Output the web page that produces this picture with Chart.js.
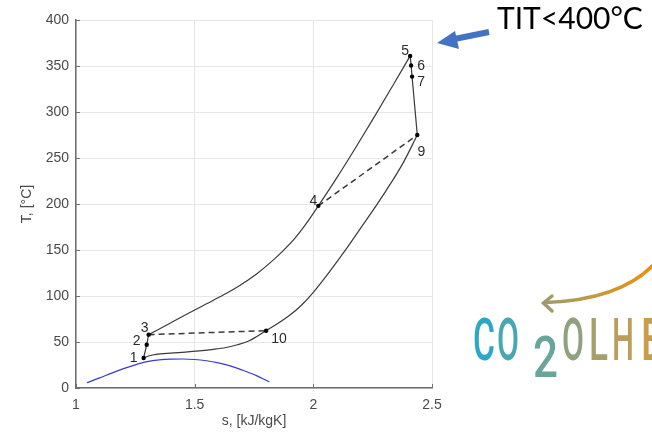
<!DOCTYPE html>
<html lang="en">
<head>
<meta charset="UTF-8">
<title>T-s diagram</title>
<script src="https://cdn.jsdelivr.net/npm/chart.js"></script>
<style>
  html, body { margin: 0; padding: 0; background: #fff; }
</style>
</head>
<body>
<canvas id="ts-chart" width="652" height="432"></canvas>
<script>
// saturation dome
const domeS = [1.046, 1.10, 1.15, 1.20, 1.25, 1.30, 1.35, 1.40, 1.45, 1.50, 1.55, 1.60, 1.65, 1.70, 1.76, 1.815];
const domeT = [5.8, 11, 16.2, 21, 25.2, 28.6, 30.6, 31.4, 31.5, 31, 29.6, 27.3, 24, 19.5, 13.5, 6.5];

// high pressure branch 3 -> 4 -> 5
const highS = [1.306, 1.40, 1.48, 1.55, 1.62, 1.69, 1.761, 1.82, 1.87, 1.92, 1.97, 2.021, 2.10, 2.18, 2.26, 2.34, 2.408];
const highT = [58, 71, 82, 91.5, 101, 111.5, 124, 136.5, 148.5, 162, 178.6, 198, 229, 262, 296, 331, 361];

// low pressure branch 1 -> 10 -> 9
const lowS = [1.285, 1.31, 1.337, 1.40, 1.46, 1.52, 1.58, 1.632, 1.68, 1.73, 1.801, 1.85, 1.90, 1.95, 2.0, 2.07, 2.141, 2.20, 2.267, 2.33, 2.379, 2.438];
const lowT = [32.6, 35, 36.6, 38, 39, 40.3, 42, 44, 47, 51.4, 62.3, 70, 79, 90, 104, 127, 152, 174, 199, 224, 245, 275];

// state points
const stateNames = ['1', '2', '3', '4', '5', '6', '7', '9', '10'];
const stateS = [1.285, 1.298, 1.306, 2.021, 2.408, 2.412, 2.416, 2.438, 1.801];
const stateT = [32.6, 47, 58, 198, 361, 350.5, 338.5, 275, 62.3];

// segments between state points
const pumpPath = ['1', '2', '3'];
const turbinePath = ['5', '6', '7', '9'];
const recupCold = ['3', '10'];
const recupHot = ['4', '9'];

const sTicks = [1, 1.5, 2, 2.5];
const tMax = 400;

const toXY = (xs, ys) => xs.map((x, i) => ({ x, y: ys[i] }));
const pathXY = names => names.map(n => {
    const i = stateNames.indexOf(n);
    return { x: stateS[i], y: stateT[i] };
});

// label offsets in px (dx, dy), same order as stateNames
const labelOffsets = [[-10, 0], [-10, -4], [-4, -6], [-5, -5], [-5, -5], [10, 1], [9, 6], [4, 17], [13, 8]];

const axisColor = '#6f6f6f';
const lineColor = '#3a3a3a';

const decorations = {
    id: 'decorations',
    afterDatasetsDraw(chart) {
        const ctx = chart.ctx;
        const xs = chart.scales.x, ys = chart.scales.y;
        ctx.save();
        ctx.font = '14px "Liberation Sans", Arial, sans-serif';
        ctx.fillStyle = '#2b2b2b';
        ctx.textAlign = 'center';
        ctx.textBaseline = 'middle';
        stateNames.forEach((n, i) => {
            const px = xs.getPixelForValue(stateS[i]);
            const py = ys.getPixelForValue(stateT[i]);
            ctx.fillText(n, px + labelOffsets[i][0], py + labelOffsets[i][1]);
        });
        ctx.restore();
    },
    afterDraw(chart) {
        const ctx = chart.ctx;
        const area = chart.chartArea;
        const xs = chart.scales.x, ys = chart.scales.y;
        ctx.save();

        // inward tick marks
        ctx.strokeStyle = axisColor;
        ctx.lineWidth = 1;
        ys.ticks.forEach(t => {
            const y = Math.round(ys.getPixelForValue(t.value)) + 0.5;
            ctx.beginPath();
            ctx.moveTo(area.left, y);
            ctx.lineTo(area.left + 4, y);
            ctx.stroke();
        });
        xs.ticks.forEach(t => {
            const x = Math.round(xs.getPixelForValue(t.value)) + 0.5;
            ctx.beginPath();
            ctx.moveTo(x, area.bottom);
            ctx.lineTo(x, area.bottom - 4);
            ctx.stroke();
        });

        // TIT note
        const note = 'TIT<400°C';
        let size = 30;
        ctx.font = size + 'px Lato, "Open Sans", sans-serif';
        size = size * 146 / ctx.measureText(note).width;
        ctx.font = size + 'px Lato, "Open Sans", sans-serif';
        ctx.fillStyle = '#000';
        ctx.textBaseline = 'alphabetic';
        ctx.textAlign = 'left';
        ctx.fillText(note, 497, 29);

        // blue arrow
        ctx.fillStyle = '#4472c4';
        ctx.strokeStyle = '#4472c4';
        ctx.lineWidth = 6;
        ctx.beginPath();
        ctx.moveTo(489, 32);
        ctx.lineTo(452, 39.5);
        ctx.stroke();
        ctx.beginPath();
        ctx.moveTo(437, 43);
        ctx.lineTo(455, 31);
        ctx.lineTo(459, 49);
        ctx.closePath();
        ctx.fill();

        // logo arrow
        const ag = ctx.createLinearGradient(540, 0, 652, 0);
        ag.addColorStop(0, '#9b9a72');
        ag.addColorStop(0.5, '#c49a3c');
        ag.addColorStop(1, '#ee8e0c');
        ctx.strokeStyle = ag;
        ctx.lineWidth = 3.5;
        ctx.lineCap = 'round';
        ctx.beginPath();
        ctx.moveTo(656, 262);
        ctx.quadraticCurveTo(622, 300, 545, 302.5);
        ctx.stroke();
        ctx.beginPath();
        ctx.moveTo(552, 296);
        ctx.lineTo(543.5, 303);
        ctx.lineTo(552, 311);
        ctx.stroke();

        // logo letters
        const glyphs = [
            ['C', 473, 360, '#2aa8c6'], ['O', 497, 360, '#49a7b4'], ['2', 533, 377, '#6aa59c'],
            ['O', 562, 360, '#8ea27e'], ['L', 589, 360, '#a69f69'], ['H', 612, 360, '#ba9e5a'],
            ['E', 641, 360, '#c99c4c']
        ];
        ctx.font = '500 60px Roboto, sans-serif';
        glyphs.forEach(([g, x, y, c]) => {
            const w = ctx.measureText(g).width;
            const target = g === '2' ? 25 : (g === 'L' ? 19 : 22);
            ctx.save();
            ctx.translate(x, y);
            ctx.scale(target / w, g === '2' ? 0.95 : 1);
            ctx.fillStyle = c;
            ctx.fillText(g, 0, 0);
            ctx.restore();
        });

        ctx.restore();
    }
};

const curve = (label, xs, ys, color) => ({
    label,
    data: toXY(xs, ys),
    showLine: true,
    borderColor: color,
    borderWidth: 1.2,
    pointRadius: 0,
    cubicInterpolationMode: 'monotone'
});

const segment = (label, names, dashed) => ({
    label,
    data: pathXY(names),
    showLine: true,
    borderColor: lineColor,
    borderWidth: dashed ? 1.5 : 1.2,
    borderDash: dashed ? [6, 4] : [],
    pointRadius: 0
});

const tickFont = { family: '"Liberation Sans", Arial, sans-serif', size: 14 };

new Chart(document.getElementById('ts-chart'), {
    type: 'scatter',
    data: {
        datasets: [
            {
                label: 'states',
                data: toXY(stateS, stateT),
                pointRadius: 2.2,
                pointBackgroundColor: '#000',
                pointBorderWidth: 0,
                showLine: false
            },
            curve('dome', domeS, domeT, '#3a3ad8'),
            curve('high', highS, highT, lineColor),
            curve('low', lowS, lowT, lineColor),
            segment('pump', pumpPath, false),
            segment('turbine', turbinePath, false),
            segment('recup cold', recupCold, true),
            segment('recup hot', recupHot, true)
        ]
    },
    options: {
        responsive: false,
        animation: false,
        layout: { padding: { left: 0, right: 220, top: 20, bottom: 0 } },
        plugins: { legend: { display: false }, tooltip: { enabled: false } },
        scales: {
            x: {
                type: 'linear',
                min: sTicks[0],
                max: sTicks[sTicks.length - 1],
                afterBuildTicks: scale => { scale.ticks = sTicks.map(v => ({ value: v })); },
                afterFit: scale => { scale.height = 44; },
                grid: { color: '#e6e6e6', drawTicks: false },
                border: { color: axisColor, width: 1.5 },
                ticks: { padding: 9, color: '#4a4a4a', font: tickFont, callback: v => String(v) },
                title: {
                    display: true,
                    text: 's, [kJ/kgK]',
                    color: '#4a4a4a',
                    font: tickFont,
                    padding: { top: 2, bottom: 2 }
                }
            },
            y: {
                min: 0,
                max: tMax,
                ticks: { stepSize: 50, padding: 7, color: '#4a4a4a', font: tickFont },
                afterFit: scale => { scale.width = 76; },
                grid: { color: '#e6e6e6', drawTicks: false },
                border: { color: axisColor, width: 1.5 },
                title: {
                    display: true,
                    text: 'T, [°C]',
                    color: '#4a4a4a',
                    font: tickFont,
                    padding: { top: 19, bottom: 0 }
                }
            }
        }
    },
    plugins: [decorations]
});
</script>
</body>
</html>
